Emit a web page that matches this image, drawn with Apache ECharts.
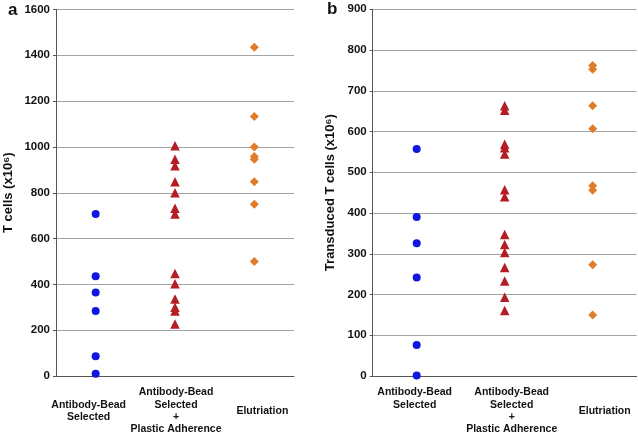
<!DOCTYPE html>
<html><head><meta charset="utf-8">
<script src="https://cdn.jsdelivr.net/npm/echarts@6/dist/echarts.min.js"></script>
<style>html,body{margin:0;padding:0;background:#fff}#c{width:638px;height:437px}</style>
</head><body><div id="c"></div>
<script>
const categories = ['Antibody-Bead\nSelected', 'Antibody-Bead\nSelected\n+\nPlastic Adherence', 'Elutriation'];
const leftTicks = {min: 0, max: 1600, interval: 200};
const rightTicks = {min: 0, max: 900, interval: 100};
// Panel a: T cells (x10^6)
const aBead = [707, 435, 365, 284, 86, 10];
const aBeadPlastic = [1005, 946, 918, 848, 800, 732, 707, 448, 403, 336, 300, 284, 227];
const aElutriation = [1435, 1133, 1000, 958, 946, 848, 750, 500];
// Panel b: Transduced T cells (x10^6)
const bBead = [557, 390, 326, 242, 76, 1];
const bBeadPlastic = [663, 652, 569, 560, 545, 457, 440, 347, 323, 303, 266, 233, 193, 161];
const bElutriation = [762, 753, 663, 607, 467, 456, 273, 150];

const FONT = 'Liberation Sans';
const colors = {blue: '#0f16e0', red: '#b51d25', orange: '#e07d2a'};

// per-category label tweaks, per panel
const labA = [{padding: [0, 14, 0, 0]}, {padding: [0, 0, 0, 2]}, {padding: [0, 0, 0, 16]}];
const labB = [{padding: [0, 4, 0, 0], verticalAlign: 'bottom'}, {padding: [0, 0, 0, 14]}, {padding: [0, 0, 0, 24]}];

const catLabelStyle = {color: '#111', fontFamily: FONT, fontWeight: 'bold', fontSize: 10.5,
  lineHeight: 12.3, verticalAlign: 'middle', align: 'center'};

function xAxis(gi, labs){
  return {
    type: 'category', gridIndex: gi, boundaryGap: true,
    data: categories.map((c, i) => ({value: c, textStyle: Object.assign({}, catLabelStyle, labs[i])})),
    axisLine: {lineStyle: {color: '#555', width: 1}},
    axisTick: {show: false},
    axisLabel: Object.assign({interval: 0, margin: 35, hideOverlap: false}, catLabelStyle)
  };
}
function yAxis(gi, t, name, gap){
  return {
    type: 'value', gridIndex: gi, min: t.min, max: t.max, interval: t.interval,
    name: name, nameLocation: 'middle', nameGap: gap, nameRotate: 90,
    nameTextStyle: {color: '#111', fontFamily: FONT, fontWeight: 'bold', fontSize: 13},
    axisLine: {show: true, lineStyle: {color: '#555', width: 1}},
    axisTick: {show: true, length: 3, lineStyle: {color: '#555'}},
    axisLabel: {color: '#111', fontFamily: FONT, fontWeight: 'bold', fontSize: 11.5, margin: 6,
      formatter: v => String(v)},
    splitLine: {lineStyle: {color: '#a3a3a3', width: 1}}
  };
}
function sc(gi, vals, cat, sym, size, color){
  return {type: 'scatter', xAxisIndex: gi, yAxisIndex: gi, symbol: sym, symbolSize: size,
    itemStyle: {color: color, opacity: 1}, silent: true,
    data: vals.map(v => [cat, v])};
}
const chart = echarts.init(document.getElementById('c'), null, {renderer: 'canvas'});
chart.setOption({
  animation: false,
  backgroundColor: '#fff',
  textStyle: {fontFamily: FONT},
  grid: [
    {left: 56, right: 344, top: 9.5, bottom: 61, containLabel: false, outerBoundsMode: 'none'},
    {left: 372.7, right: 1.3, top: 9.3, bottom: 61, containLabel: false, outerBoundsMode: 'none'}
  ],
  graphic: [
    {type: 'text', left: 8, top: 2, style: {text: 'a', font: 'bold 17px "Liberation Sans"', fill: '#111'}},
    {type: 'text', left: 327, top: 1, style: {text: 'b', font: 'bold 17px "Liberation Sans"', fill: '#111'}}
  ],
  xAxis: [xAxis(0, labA), xAxis(1, labB)],
  yAxis: [yAxis(0, leftTicks, 'T cells (x10⁶)', 41), yAxis(1, rightTicks, 'Transduced T cells (x10⁶)', 36)],
  series: [
    sc(0, aBead, 0, 'circle', 8, colors.blue),
    sc(0, aBeadPlastic, 1, 'triangle', 9.5, colors.red),
    sc(0, aElutriation, 2, 'diamond', 9, colors.orange),
    sc(1, bBead, 0, 'circle', 8, colors.blue),
    sc(1, bBeadPlastic, 1, 'triangle', 9.5, colors.red),
    sc(1, bElutriation, 2, 'diamond', 9, colors.orange)
  ]
});
</script></body></html>
